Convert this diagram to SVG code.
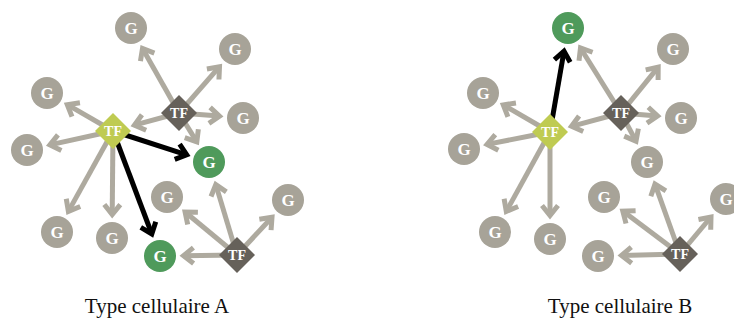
<svg xmlns="http://www.w3.org/2000/svg" width="734" height="320" viewBox="0 0 734 320">
<style>
.e{stroke:#aeaa9f;stroke-width:5;fill:none;marker-end:url(#ag)}
.k{stroke:#000;stroke-width:5;fill:none;marker-end:url(#ak)}
.g{fill:#a7a398}
.gr{fill:#4f9a5b}
.tf{fill:#66615a}
.y{fill:#bfcb52}
.t{font-family:"Liberation Serif","Times New Roman",serif;font-weight:bold;fill:#fff;text-anchor:middle}
.tg{font-size:17px}
.tt{font-size:14px}
.lab{font-family:"Liberation Serif","Times New Roman",serif;font-size:21px;fill:#111;text-anchor:middle}
</style>
<defs>
<marker id="ag" markerUnits="userSpaceOnUse" viewBox="-20 -15 30 30" refX="0" refY="0" markerWidth="30" markerHeight="30" orient="auto" overflow="visible">
<path d="M-10,-8 L0,0 L-10,8" fill="none" stroke="#aeaa9f" stroke-width="5"/>
</marker>
<marker id="ak" markerUnits="userSpaceOnUse" viewBox="-20 -15 30 30" refX="0" refY="0" markerWidth="30" markerHeight="30" orient="auto" overflow="visible">
<path d="M-10,-8 L0,0 L-10,8" fill="none" stroke="#000" stroke-width="5"/>
</marker>
</defs>
<g id="connectors">
<line class="e" x1="113" y1="131" x2="67.3" y2="104.7"/>
<line class="e" x1="113" y1="131" x2="49.9" y2="144.9"/>
<line class="e" x1="113" y1="131" x2="68.4" y2="211.4"/>
<line class="e" x1="113" y1="131" x2="112.2" y2="214.5"/>
<line class="e" x1="179" y1="113" x2="142.5" y2="48.4"/>
<line class="e" x1="179" y1="113" x2="219.5" y2="66.7"/>
<line class="e" x1="179" y1="113" x2="219.5" y2="116.1"/>
<line class="e" x1="179" y1="113" x2="134.4" y2="125.2"/>
<line class="e" x1="179" y1="113" x2="196.8" y2="141.9"/>
<line class="e" x1="237" y1="255" x2="183.5" y2="255.7"/>
<line class="e" x1="237" y1="255" x2="185.1" y2="212"/>
<line class="e" x1="237" y1="255" x2="215.8" y2="184.6"/>
<line class="e" x1="237" y1="255" x2="272" y2="217.3"/>
<line class="k" x1="113" y1="131" x2="186.7" y2="154.8"/>
<line class="k" x1="113" y1="131" x2="151.8" y2="234"/>
<line class="e" x1="550" y1="132" x2="503.3" y2="104.9"/>
<line class="e" x1="550" y1="132" x2="487" y2="144.4"/>
<line class="e" x1="550" y1="132" x2="506.3" y2="211.4"/>
<line class="e" x1="550" y1="132" x2="550" y2="215.5"/>
<line class="e" x1="621" y1="113" x2="580.5" y2="48"/>
<line class="e" x1="621" y1="113" x2="658.2" y2="67.2"/>
<line class="e" x1="621" y1="113" x2="657.6" y2="116"/>
<line class="e" x1="621" y1="113" x2="571.5" y2="126.3"/>
<line class="e" x1="621" y1="113" x2="636" y2="141.2"/>
<line class="e" x1="680" y1="254" x2="621.5" y2="255.4"/>
<line class="e" x1="680" y1="254" x2="622.8" y2="211.1"/>
<line class="e" x1="680" y1="254" x2="655" y2="184.1"/>
<line class="e" x1="680" y1="254" x2="711" y2="217"/>
<line class="k" x1="550" y1="132" x2="564" y2="51.1"/>
</g>
<g id="A-g1"><circle class="g" cx="131" cy="28" r="16"/><text class="t tg" x="131" y="34">G</text></g>
<g id="A-g2"><circle class="g" cx="235" cy="49" r="16"/><text class="t tg" x="235" y="55">G</text></g>
<g id="A-g3"><circle class="g" cx="47" cy="93" r="16"/><text class="t tg" x="47" y="99">G</text></g>
<g id="A-g4"><circle class="g" cx="243" cy="118" r="16"/><text class="t tg" x="243" y="124">G</text></g>
<g id="A-g5"><circle class="g" cx="27" cy="150" r="16"/><text class="t tg" x="27" y="156">G</text></g>
<g id="A-g6"><circle class="gr" cx="209" cy="162" r="16"/><text class="t tg" x="209" y="168">G</text></g>
<g id="A-g7"><circle class="g" cx="167" cy="197" r="16"/><text class="t tg" x="167" y="203">G</text></g>
<g id="A-g8"><circle class="g" cx="288" cy="200" r="16"/><text class="t tg" x="288" y="206">G</text></g>
<g id="A-g9"><circle class="g" cx="57" cy="232" r="16"/><text class="t tg" x="57" y="238">G</text></g>
<g id="A-g10"><circle class="g" cx="112" cy="238" r="16"/><text class="t tg" x="112" y="244">G</text></g>
<g id="A-g11"><circle class="gr" cx="160" cy="256" r="16"/><text class="t tg" x="160" y="262">G</text></g>
<g id="A-tf1"><polygon class="y" points="113,113 131,131 113,149 95,131"/><text class="t tt" x="113" y="136">TF</text></g>
<g id="A-tf2"><polygon class="tf" points="179,95 197,113 179,131 161,113"/><text class="t tt" x="179" y="118">TF</text></g>
<g id="A-tf3"><polygon class="tf" points="237,237 255,255 237,273 219,255"/><text class="t tt" x="237" y="260">TF</text></g>
<g id="B-g1"><circle class="gr" cx="568" cy="28" r="16"/><text class="t tg" x="568" y="34">G</text></g>
<g id="B-g2"><circle class="g" cx="673" cy="49" r="16"/><text class="t tg" x="673" y="55">G</text></g>
<g id="B-g3"><circle class="g" cx="483" cy="93" r="16"/><text class="t tg" x="483" y="99">G</text></g>
<g id="B-g4"><circle class="g" cx="681" cy="118" r="16"/><text class="t tg" x="681" y="124">G</text></g>
<g id="B-g5"><circle class="g" cx="464" cy="149" r="16"/><text class="t tg" x="464" y="155">G</text></g>
<g id="B-g6"><circle class="g" cx="647" cy="162" r="16"/><text class="t tg" x="647" y="168">G</text></g>
<g id="B-g7"><circle class="g" cx="604" cy="197" r="16"/><text class="t tg" x="604" y="203">G</text></g>
<g id="B-g8"><circle class="g" cx="726" cy="199" r="16"/><text class="t tg" x="726" y="205">G</text></g>
<g id="B-g9"><circle class="g" cx="495" cy="232" r="16"/><text class="t tg" x="495" y="238">G</text></g>
<g id="B-g10"><circle class="g" cx="550" cy="239" r="16"/><text class="t tg" x="550" y="245">G</text></g>
<g id="B-g11"><circle class="g" cx="598" cy="256" r="16"/><text class="t tg" x="598" y="262">G</text></g>
<g id="B-tf1"><polygon class="y" points="550,114 568,132 550,150 532,132"/><text class="t tt" x="550" y="137">TF</text></g>
<g id="B-tf2"><polygon class="tf" points="621,95 639,113 621,131 603,113"/><text class="t tt" x="621" y="118">TF</text></g>
<g id="B-tf3"><polygon class="tf" points="680,236 698,254 680,272 662,254"/><text class="t tt" x="680" y="259">TF</text></g>
<g id="labels">
<text class="lab" x="157" y="313">Type cellulaire A</text>
<text class="lab" x="620" y="313">Type cellulaire B</text>
</g>
</svg>
